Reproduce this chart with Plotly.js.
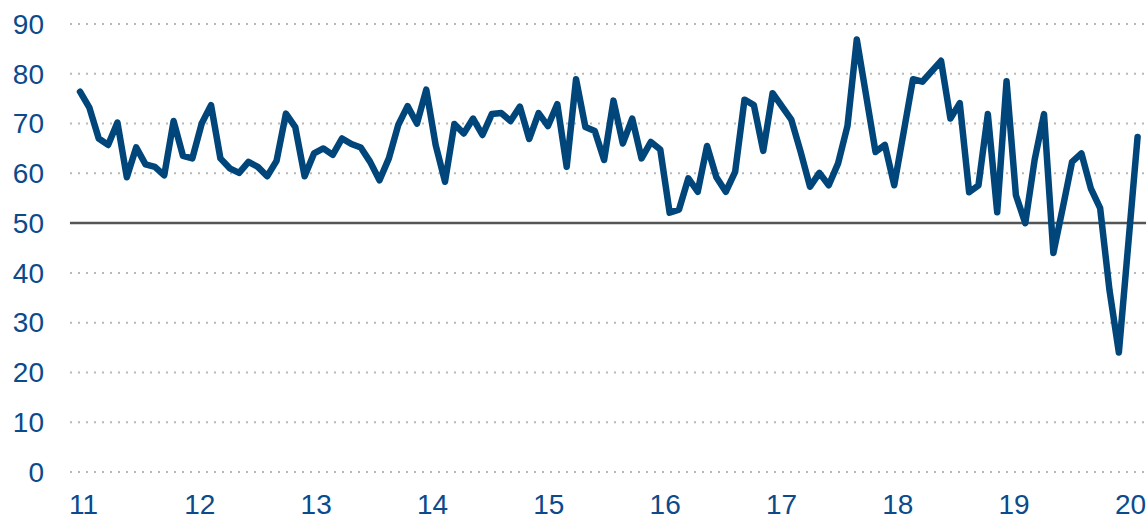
<!DOCTYPE html>
<html>
<head>
<meta charset="utf-8">
<script src="https://cdn.plot.ly/plotly-3.0.1.min.js"></script>
<style>
  html, body { margin: 0; padding: 0; background: #fff; }
  #chart { width: 1146px; height: 521px; }
  path.js-line { stroke-linejoin: round !important; stroke-linecap: round !important; }
</style>
</head>
<body>
<div id="chart"></div>
<script>
// Series values (one point per period)
const values = [
  76.4, 73.2, 67.0, 65.7, 70.2, 59.2, 65.2, 61.8, 61.3, 59.6,
  70.5, 63.5, 63.0, 70.0, 73.7, 63.0, 61.0, 60.1, 62.3, 61.3,
  59.4, 62.5, 72.0, 69.3, 59.4, 64.0, 65.0, 63.7, 67.0, 65.9,
  65.2, 62.3, 58.6, 63.0, 69.7, 73.5, 70.0, 76.8, 65.7, 58.3,
  69.9, 68.0, 71.0, 67.7, 71.9, 72.1, 70.5, 73.4, 66.9, 72.1,
  69.5, 73.9, 61.3, 78.9, 69.3, 68.5, 62.7, 74.6, 66.0, 71.0,
  63.0, 66.3, 64.8, 52.1, 52.7, 59.0, 56.3, 65.5, 59.2, 56.3,
  60.3, 74.8, 73.7, 64.5, 76.1, 73.7, 70.8, 64.3, 57.3, 60.1,
  57.6, 62.0, 69.5, 86.9, 75.7, 64.3, 65.7, 57.6, 68.2, 78.9,
  78.4, 80.5, 82.6, 71.0, 74.1, 56.2, 57.6, 71.9, 52.2, 78.5,
  55.6, 50.0, 62.7, 71.9, 44.0, 53.0, 62.3, 64.0, 57.0, 53.0,
  36.5, 24.0, 45.6, 67.3
];
const xIndex = values.map((_, i) => i);

// Tick labels
const xTickLabels = ["11", "12", "13", "14", "15", "16", "17", "18", "19", "20"];
const yTickValues = [0, 10, 20, 30, 40, 50, 60, 70, 80, 90];
const threshold = 50;

const tickStart = 0.37, tickStep = 12.43;
const xTickVals = xTickLabels.map((_, k) => tickStart + tickStep * k);

const blue = "#00467a";
const labelBlue = "#0b4a8b";

const trace = {
  x: xIndex,
  y: values,
  type: "scatter",
  mode: "lines",
  line: { color: blue, width: 6.5 },
  hoverinfo: "skip"
};

const gridShapes = yTickValues.filter(v => v !== threshold).map(v => ({
  type: "line", xref: "paper", x0: 0, x1: 1, yref: "y", y0: v, y1: v,
  line: { color: "#b8b8b8", width: 2, dash: "2px,6px" }, layer: "below"
}));
gridShapes.push({
  type: "line", xref: "paper", x0: 0, x1: 1, yref: "y", y0: threshold, y1: threshold,
  line: { color: "#555555", width: 2.5 }, layer: "below"
});

const layout = {
  width: 1146,
  height: 521,
  margin: { l: 70, r: 0, t: 19, b: 44 },
  paper_bgcolor: "#fff",
  plot_bgcolor: "#fff",
  showlegend: false,
  font: { family: "Liberation Sans, Arial, sans-serif", color: labelBlue, size: 28 },
  xaxis: {
    range: [-1.07, 113.9],
    tickvals: xTickVals,
    ticktext: xTickLabels,
    showgrid: false,
    zeroline: false,
    showline: false,
    ticks: "",
    ticklabelstandoff: 8,
    ticklabeloverflow: "allow",
    automargin: false,
    tickfont: { size: 28, color: labelBlue }
  },
  yaxis: {
    range: [-1, 91],
    tickvals: yTickValues,
    showgrid: false,
    zeroline: false,
    showline: false,
    ticks: "",
    ticklabelstandoff: 25,
    automargin: false,
    tickfont: { size: 28, color: labelBlue }
  },
  shapes: gridShapes
};

Plotly.newPlot("chart", [trace], layout, { displayModeBar: false, staticPlot: true });
</script>
</body>
</html>
